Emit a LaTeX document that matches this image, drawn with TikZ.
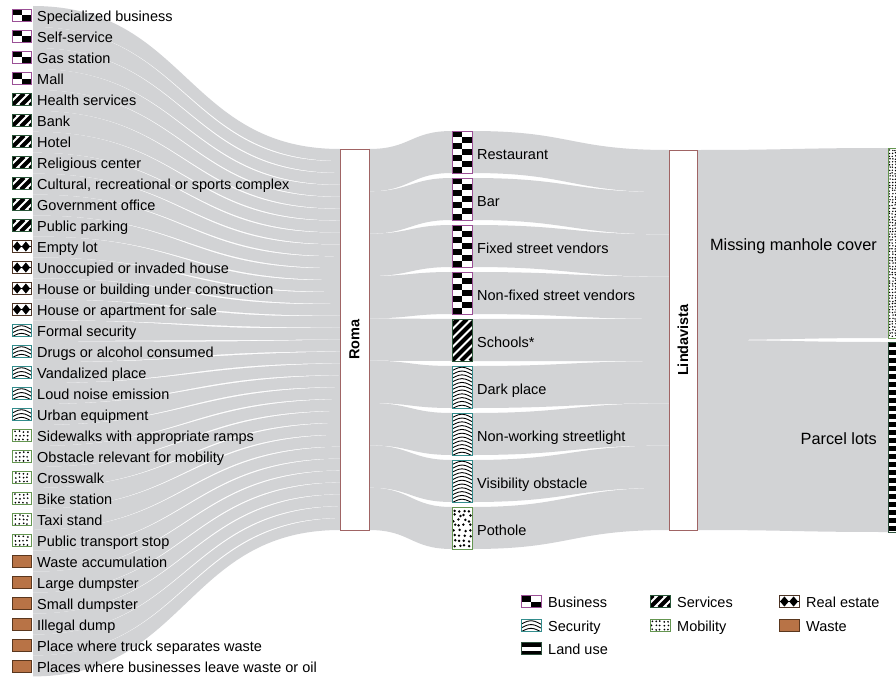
\documentclass[tikz,border=0pt]{standalone}
\usepackage{fontspec}
\setmainfont{Liberation Sans}
\definecolor{flowgray}{RGB}{210,211,213}
\definecolor{bizc}{RGB}{155,80,150}
\definecolor{svcc}{RGB}{40,85,55}
\definecolor{rec}{RGB}{75,50,35}
\definecolor{secc}{RGB}{50,140,140}
\definecolor{mobc}{RGB}{100,150,80}
\definecolor{wastef}{RGB}{184,115,70}
\definecolor{wastec}{RGB}{90,55,30}
\definecolor{landc}{RGB}{45,80,60}
\definecolor{boxc}{RGB}{160,100,100}
\tikzset{
  flow/.style={fill=flowgray, draw=none},
  catbox/.style={draw=boxc, line width=1pt, fill=white, inner sep=0pt},
  lab/.style={anchor=base west, inner sep=0pt, font=\fontsize{14.5}{17}\selectfont},
  biglab/.style={anchor=base east, inner sep=0pt, font=\fontsize{16.3}{19}\selectfont},
}
\def\dotg{4}\def\dotr{0.95}\def\dotj{1.2}
\newcommand\bizicon[4]{%
  \fill[white] (#1,#2) rectangle ++(#3,#4);
  \begin{scope}
    \clip (#1,#2) rectangle ++(#3,#4);
    \pgfmathtruncatemacro\nrows{ceil((#4)/6)-1}
    \foreach \r in {0,...,\nrows}{%
      \pgfmathsetmacro\cx{#1+mod(\r,2)*(#3)/2}
      \fill (\cx,{#2+6*\r}) rectangle ++({(#3)/2},6);
    }
  \end{scope}
  \draw[bizc, line width=1pt] (#1,#2) rectangle ++(#3,#4);
}
\newcommand\svcicon[4]{%
  \fill[white] (#1,#2) rectangle ++(#3,#4);
  \begin{scope}
    \clip (#1,#2) rectangle ++(#3,#4);
    \foreach \k in {-45,-36,...,27}{%
      \draw[line width=4.1pt] ({#1+(\k)},{#2+#4}) -- ++(#4,-#4);
    }
  \end{scope}
  \draw[svcc, line width=1pt] (#1,#2) rectangle ++(#3,#4);
}
\newcommand\reicon[4]{%
  \fill[white] (#1,#2) rectangle ++(#3,#4);
  \pgfmathsetmacro\ca{#1+0.27*(#3)}\pgfmathsetmacro\cb{#1+0.73*(#3)}
  \pgfmathsetmacro\cy{#2+0.5*(#4)}\pgfmathsetmacro\ha{0.22*(#3)}\pgfmathsetmacro\hb{0.42*(#4)}
  \draw[line width=0.8pt] (#1,\cy) -- ++(#3,0);
  \foreach \cc in {\ca,\cb}{\fill (\cc,\cy-\hb) -- (\cc+\ha,\cy) -- (\cc,\cy+\hb) -- (\cc-\ha,\cy) -- cycle;}
  \draw[rec, line width=1pt] (#1,#2) rectangle ++(#3,#4);
}
\newcommand\secicon[4]{%
  \fill[white] (#1,#2) rectangle ++(#3,#4);
  \begin{scope}
    \clip (#1,#2) rectangle ++(#3,#4);
    \pgfmathtruncatemacro\narch{floor(((#4)-1)/3.8)}
    \foreach \k in {0,...,\narch}{%
      \pgfmathsetmacro\yk{#2+1.5+3.8*\k}
      \draw[line width=0.9pt, line join=round] (#1,\yk+3.2) .. controls ({#1+0.3*(#3)},\yk) and ({#1+0.4*(#3)},\yk-0.3) .. ({#1+0.5*(#3)},\yk-0.3) .. controls ({#1+0.6*(#3)},\yk-0.3) and ({#1+0.7*(#3)},\yk) .. ({#1+#3},\yk+3.2);
    }
  \end{scope}
  \draw[secc, line width=1pt] (#1,#2) rectangle ++(#3,#4);
}
\newcommand\mobicon[4]{%
  \fill[white] (#1,#2) rectangle ++(#3,#4);
  \pgfmathtruncatemacro\ncol{floor((#3)/\dotg)-1}
  \pgfmathtruncatemacro\nrow{floor((#4)/\dotg)-1}
  \pgfmathsetmacro\offx{((#3)-(\ncol+1)*\dotg)/2+\dotg/2}
  \pgfmathsetmacro\offy{((#4)-(\nrow+1)*\dotg)/2+\dotg/2}
  \foreach \ia in {0,...,\ncol}{\foreach \ib in {0,...,\nrow}{%
    \pgfmathsetmacro\dxx{#1+\offx+\ia*\dotg+(rnd-0.5)*\dotj}
    \pgfmathsetmacro\dyy{#2+\offy+\ib*\dotg+(rnd-0.5)*\dotj}
    \fill (\dxx,\dyy) circle[radius=\dotr];
  }}
  \draw[mobc, line width=1pt] (#1,#2) rectangle ++(#3,#4);
}
\newcommand\wasteicon[4]{%
  \filldraw[fill=wastef, draw=wastec, line width=1pt] (#1,#2) rectangle ++(#3,#4);
}
\newcommand\landicon[4]{%
  \fill[white] (#1,#2) rectangle ++(#3,#4);
  \begin{scope}
    \clip (#1,#2) rectangle ++(#3,#4);
    \pgfmathtruncatemacro\nst{floor((#4)/8)}
    \foreach \k in {0,...,\nst}{\fill (#1,{#2+8*\k}) rectangle ++(#3,4.5);}
  \end{scope}
  \draw[landc, line width=1pt] (#1,#2) rectangle ++(#3,#4);
}
\begin{document}
\begin{tikzpicture}[x=1pt,y=-1pt,font=\fontsize{14.5}{17}\selectfont]
\pgfmathsetseed{3}
\useasboundingbox (0,0) rectangle (896,677);
% ---------- flows: sources -> Roma
\foreach \i in {0,...,31}{%
  \pgfmathsetmacro\ta{6+20.95*\i}
  \pgfmathsetmacro\ba{\ta+20.95}
  \pgfmathsetmacro\tb{149+381/32*\i}
  \pgfmathsetmacro\bb{\tb+381/32}
  \pgfmathsetmacro\sh{(\i>0)*3.2}
  \fill[flow] (33,\ta) .. controls (186,\ta) and (186,\tb+\sh) .. (340,\tb) -- (340,\bb) .. controls (186,\bb) and (186,\ba) .. (33,\ba) -- cycle;
}
% ---------- flows: Roma -> middle
\foreach \j in {0,...,8}{%
  \pgfmathsetmacro\ta{149+381/9*\j}
  \pgfmathsetmacro\ba{\ta+381/9}
  \pgfmathsetmacro\tb{131+47*\j}
  \pgfmathsetmacro\bb{\tb+42}
  \fill[flow] (369,\ta) .. controls (410.5,\ta) and (410.5,\tb) .. (452,\tb) -- (452,\bb) .. controls (410.5,\bb) and (410.5,\ba) .. (369,\ba) -- cycle;
}
% ---------- flows: middle -> Lindavista
\foreach \j in {0,...,8}{%
  \pgfmathsetmacro\ta{131+47*\j}
  \pgfmathsetmacro\ba{\ta+42}
  \pgfmathsetmacro\tb{150+380/9*\j}
  \pgfmathsetmacro\bb{\tb+380/9}
  \fill[flow] (472,\ta) .. controls (570.5,\ta) and (570.5,\tb) .. (669,\tb) -- (669,\bb) .. controls (570.5,\bb) and (570.5,\ba) .. (472,\ba) -- cycle;
}
% ---------- flows: Lindavista -> right
\fill[flow] (697,150) .. controls (792.5,150) and (792.5,148) .. (888,148) -- (888,338) .. controls (792.5,338) and (792.5,340) .. (697,340) -- cycle;
\fill[flow] (697,340) .. controls (792.5,340) and (792.5,342) .. (888,342) -- (888,532) .. controls (792.5,532) and (792.5,530) .. (697,530) -- cycle;
% ---------- boxes
\node[catbox, rotate=90, minimum width=381pt, minimum height=29pt, font=\bfseries\fontsize{14.5}{17}\selectfont] (roma) at (354.5,339.5) {Roma};
\node[catbox, rotate=90, minimum width=380pt, minimum height=28pt, font=\bfseries\fontsize{14.5}{17}\selectfont] (linda) at (683,340) {Lindavista};
% ---------- source list
\foreach \kind/\txt [count=\i from 0] in {biz/Specialized business, biz/Self-service, biz/Gas station, biz/Mall, svc/Health services, svc/Bank, svc/Hotel, svc/Religious center, svc/{Cultural, recreational or sports complex}, svc/Government office, svc/Public parking, re/Empty lot, re/Unoccupied or invaded house, re/House or building under construction, re/House or apartment for sale, sec/Formal security, sec/Drugs or alcohol consumed, sec/Vandalized place, sec/Loud noise emission, sec/Urban equipment, mob/Sidewalks with appropriate ramps, mob/Obstacle relevant for mobility, mob/Crosswalk, mob/Bike station, mob/Taxi stand, mob/Public transport stop, waste/Waste accumulation, waste/Large dumpster, waste/Small dumpster, waste/Illegal dump, waste/Place where truck separates waste, waste/Places where businesses leave waste or oil}{%
  \pgfmathsetmacro\yc{16+21*\i}
  \csname\kind icon\endcsname{12}{\yc-6.5}{19}{12}
  \node[lab] (src\i) at (37,\yc+5.2) {\txt};
}
% ---------- middle column
\foreach \kind/\txt [count=\j from 0] in {biz/Restaurant, biz/Bar, biz/Fixed street vendors, biz/Non-fixed street vendors, svc/Schools*, sec/Dark place, sec/Non-working streetlight, sec/Visibility obstacle, mob/Pothole}{%
  \pgfmathsetmacro\yt{131+47*\j}
  \ifnum\j=8 \def\dotg{5}\def\dotr{1.35}\def\dotj{2.4}\fi
  \csname\kind icon\endcsname{452}{\yt}{20}{42}
  \node[lab] (mid\j) at (477,\yt+28) {\txt};
}
% ---------- right column
\begin{scope}
  \def\dotg{2.9}\def\dotr{0.8}\def\dotj{1.1}
  \mobicon{888}{148}{12}{190}
\end{scope}
\landicon{888}{342}{12}{190}
\node[biglab] (mmc) at (877,250) {Missing manhole cover};
\node[biglab] (parcel) at (877,444) {Parcel lots};
% ---------- legend
\foreach \kind/\txt/\lx/\ly [count=\k] in {biz/Business/521/602, svc/Services/650/602, re/Real estate/779/602, sec/Security/521/626, mob/Mobility/650/626, waste/Waste/779/626, land/Land use/521/649}{%
  \csname\kind icon\endcsname{\lx}{\ly-6.5}{20}{12}
  \node[lab] (leg\k) at (\lx+27,\ly+5.2) {\txt};
}
\end{tikzpicture}
\end{document}
